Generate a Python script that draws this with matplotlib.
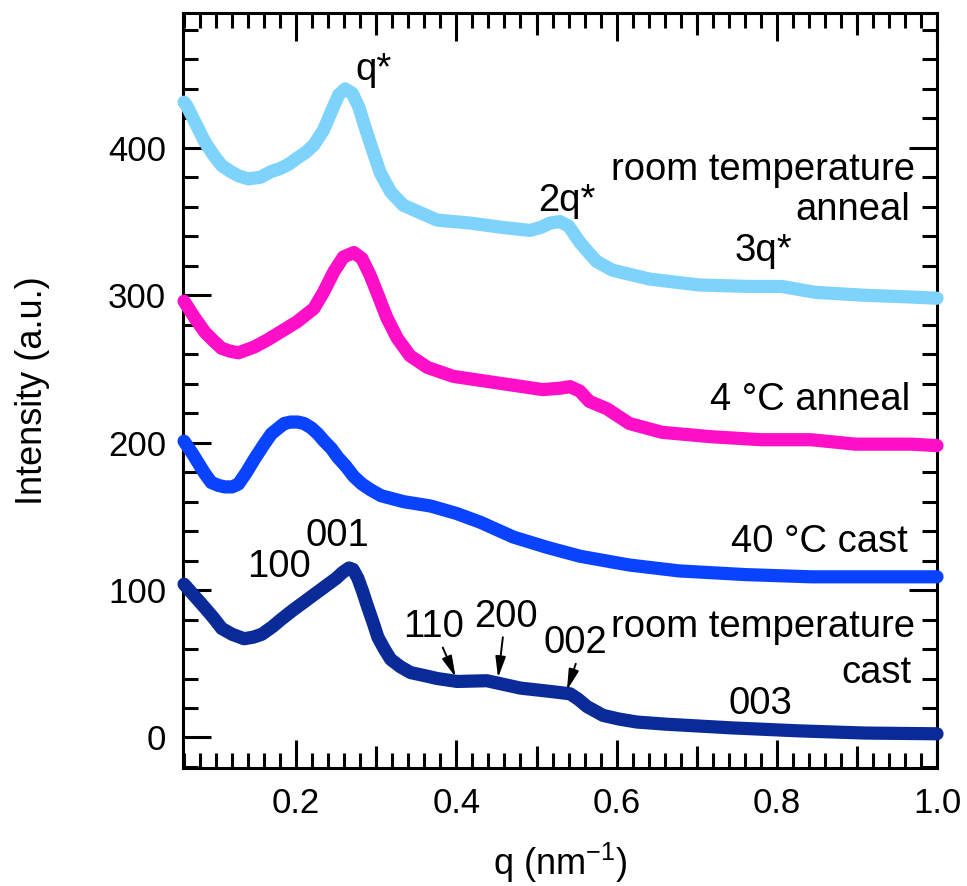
import matplotlib
matplotlib.use("Agg")
import matplotlib.pyplot as plt
from matplotlib.ticker import MultipleLocator, FixedLocator

plt.rcParams['font.family'] = ['Liberation Sans', 'DejaVu Sans']
plt.rcParams['mathtext.fontset'] = 'custom'
plt.rcParams['mathtext.rm'] = 'Liberation Sans'

# ---- data ----
q_rt_anneal = [0.060, 0.063, 0.075, 0.086, 0.097, 0.107, 0.118, 0.128, 0.140, 0.155, 0.169,
               0.180, 0.191, 0.201, 0.212, 0.222, 0.234, 0.245, 0.253, 0.261, 0.270, 0.278,
               0.286, 0.295, 0.305, 0.318, 0.334, 0.355, 0.376, 0.417, 0.458, 0.492,
               0.505, 0.517, 0.529, 0.540, 0.554, 0.565, 0.575, 0.595, 0.641, 0.703,
               0.765, 0.806, 0.848, 0.910, 0.960, 1.000]
i_rt_anneal = [431, 429, 416, 404, 395, 388, 384, 381, 379, 380, 384,
               386, 389, 393, 397, 402, 412, 426, 436, 440, 437, 428,
               414, 399, 383, 370, 361, 356, 351, 349, 346, 344,
               346, 349, 350, 347, 336, 329, 323, 317, 311, 307,
               306, 306, 302, 300, 299, 298]

q_4c_anneal = [0.060, 0.073, 0.086, 0.097, 0.107, 0.118, 0.128, 0.148, 0.165, 0.180, 0.201,
               0.222, 0.234, 0.247, 0.259, 0.272, 0.282, 0.292, 0.303, 0.313, 0.326,
               0.342, 0.364, 0.396, 0.458, 0.508, 0.530, 0.542, 0.554, 0.566, 0.588,
               0.616, 0.657, 0.719, 0.781, 0.843, 0.898, 0.968, 1.000]
i_4c_anneal = [296, 285, 275, 269, 264, 262, 261, 265, 270, 275, 282,
               291, 302, 316, 326, 329, 325, 314, 299, 285, 271,
               259, 251, 245, 240, 236, 237, 238, 235, 228, 223,
               213, 207, 204, 202, 202, 199, 199, 198]

q_40c_cast = [0.060, 0.070, 0.078, 0.086, 0.094, 0.103, 0.111, 0.120, 0.128, 0.138, 0.148,
              0.160, 0.169, 0.178, 0.185, 0.193, 0.202, 0.210, 0.219, 0.227, 0.235,
              0.244, 0.252, 0.262, 0.272, 0.282, 0.293, 0.306, 0.334, 0.368, 0.400,
              0.430, 0.471, 0.513, 0.554, 0.595, 0.616, 0.678, 0.761, 0.843, 0.927, 1.000]
i_40c_cast = [201, 193, 186, 179, 173, 171, 170, 170, 172, 180, 189,
              199, 206, 210, 213, 214, 214, 213, 210, 206, 201,
              196, 190, 184, 177, 172, 168, 164, 160, 157, 152,
              146, 136, 129, 123, 119, 117, 113, 110.5, 109, 109, 109]

q_rt_cast = [0.060, 0.073, 0.086, 0.097, 0.107, 0.120, 0.135, 0.146, 0.157, 0.170, 0.181,
             0.195, 0.210, 0.225, 0.240, 0.250, 0.258, 0.266, 0.271, 0.277, 0.283, 0.289,
             0.296, 0.302, 0.310, 0.318, 0.330, 0.343, 0.360, 0.376, 0.401, 0.438,
             0.480, 0.521, 0.542, 0.552, 0.563, 0.583, 0.603, 0.625, 0.662, 0.744,
             0.827, 0.910, 1.000]
i_rt_cast = [104, 96, 88, 81, 74, 70, 67, 68, 70, 75, 80,
             86, 92, 98, 104, 108, 112, 115, 114, 108, 99, 89,
             78, 68, 60, 53, 48, 44, 42, 40, 38, 38.5,
             33.5, 31, 29.6, 26, 21, 15, 12.5, 10.5, 9, 6.5,
             4.5, 3, 2.5]

series_colors = ['#7DD3FB', '#FF0FC8', '#0A43FF', '#0A2A98']

x_ticks = [0.2, 0.4, 0.6, 0.8, 1.0]
x_ticklabels = ['0.2', '0.4', '0.6', '0.8', '1.0']
y_ticks = [0, 100, 200, 300, 400]

fig = plt.figure(figsize=(9.67, 8.86), dpi=100)
ax = fig.add_axes([0.189, 0.1332, 0.780, 0.8521])

for q, i, c in zip([q_rt_anneal, q_4c_anneal, q_40c_cast, q_rt_cast],
                   [i_rt_anneal, i_4c_anneal, i_40c_cast, i_rt_cast],
                   series_colors):
    ax.plot(q, i, color=c, lw=9.5, solid_capstyle='round', solid_joinstyle='round',
            clip_on=False, zorder=3)

ax.set_xlim(0.0584, 1.0)
ax.set_ylim(-20.7, 491.5)

fs_tick = 25
fs_lab = 26
fs_ann = 27.5
ax.set_xticks(x_ticks)
ax.set_xticklabels(x_ticklabels)
ax.set_yticks(y_ticks)
ax.xaxis.set_minor_locator(MultipleLocator(0.02))
ax.yaxis.set_minor_locator(MultipleLocator(20))
ax.tick_params(which='both', direction='in', top=True, right=True, width=2.2,
               labelsize=fs_tick, colors='black')
ax.tick_params(which='major', length=20)
ax.tick_params(which='minor', length=11)
ax.tick_params(axis='x', which='major', pad=14)
ax.tick_params(axis='y', which='major', pad=12)
for s in ax.spines.values():
    s.set_linewidth(2.2)

# medium ticks at odd tenths
for loc in ['bottom', 'top']:
    sec = ax.secondary_xaxis(loc)
    sec.xaxis.set_major_locator(FixedLocator([0.3, 0.5, 0.7, 0.9]))
    sec.xaxis.set_minor_locator(FixedLocator([]))
    sec.tick_params(which='major', direction='in', length=16, width=2.2,
                    labelbottom=False, labeltop=False)
    sec.spines[loc].set_visible(False)

ax.set_xlabel('q (nm$^{\\mathregular{-1}}$)', fontsize=fs_lab, labelpad=15)
ax.set_ylabel('Intensity (a.u.)', fontsize=fs_lab, labelpad=42)

tk = dict(fontsize=fs_ann, va='baseline')
ax.text(0.296, 446, 'q*', ha='center', **tk)
ax.text(0.538, 357, '2q*', ha='center', **tk)
ax.text(0.783, 323, '3q*', ha='center', **tk)
ax.text(0.973, 378, 'room temperature', ha='right', **tk)
ax.text(0.967, 351, 'anneal', ha='right', **tk)
ax.text(0.966, 222, '4 °C anneal', ha='right', **tk)
ax.text(0.963, 126, '40 °C cast', ha='right', **tk)
ax.text(0.972, 68, 'room temperature', ha='right', **tk)
ax.text(0.968, 37, 'cast', ha='right', **tk)
ax.text(0.779, 16, '003', ha='center', **tk)
ax.text(0.179, 109, '100', ha='center', **tk)
ax.text(0.251, 130, '001', ha='center', **tk)
ax.text(0.371, 68, '110', ha='center', **tk)
ax.text(0.462, 75, '200', ha='center', **tk)
ax.text(0.549, 57, '002', ha='center', **tk)

ap = dict(arrowstyle='-|>,head_width=0.22,head_length=0.9', lw=1.4, color='black',
          shrinkA=0, shrinkB=0, mutation_scale=14)
ax.annotate('', xy=(0.399, 41), xytext=(0.383, 61), arrowprops=ap)
ax.annotate('', xy=(0.452, 40.5), xytext=(0.458, 68), arrowprops=ap)
ax.annotate('', xy=(0.538, 32), xytext=(0.549, 50), arrowprops=ap)

fig.savefig('out.png', dpi=100)
